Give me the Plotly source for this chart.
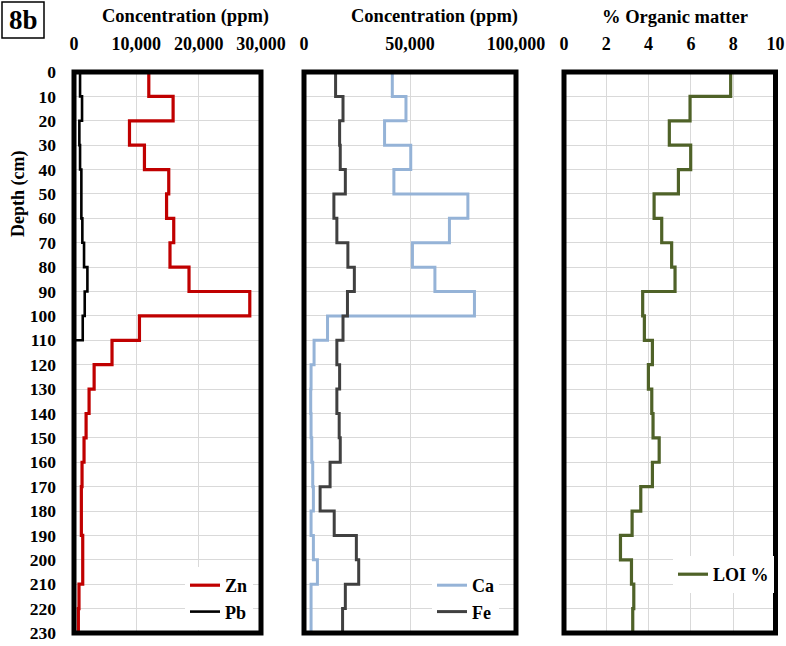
import plotly.graph_objects as go

# Sediment core depth intervals (cm): each value holds from one edge to the next
depth_edges = [0, 10, 20, 30, 40, 50, 60, 70, 80, 90, 100, 110,
               120, 130, 140, 150, 160, 170, 180, 190, 200, 210, 220, 230]

# Concentrations (ppm) per 10 cm interval
zn_ppm = [12000, 15900, 8900, 11300, 15200, 14850, 16000, 15400, 18450, 28200,
          10500, 6100, 3230, 2420, 1940, 1610, 1290, 1180, 1180, 1400, 1400, 800, 700]
pb_ppm = [970, 1290, 860, 970, 1180, 1180, 1340, 1610, 2150, 1720, 1400]  # 0-110 cm only
ca_ppm = [41650, 48100, 38000, 50350, 42400, 77300, 68600, 51150, 61750, 80400,
          11100, 4750, 3330, 3170, 3330, 3650, 4120, 4430, 3330, 4430, 6330, 3330, 3330]
fe_ppm = [14900, 18400, 16800, 17100, 19500, 14100, 15500, 20700, 23750, 20500,
          18400, 15500, 16800, 15500, 16600, 17100, 12300, 7600, 14250, 24700, 25800, 19500, 18200]

# Loss on ignition (% organic matter)
loi_pct = [7.88, 5.96, 4.98, 5.99, 5.41, 4.26, 4.62, 5.09, 5.25, 3.72,
           3.80, 4.18, 3.99, 4.15, 4.21, 4.50, 4.18, 3.63, 3.22, 2.67, 3.19, 3.30, 3.25]

W, H = 786, 646
FONT = "Liberation Serif"


def px_x(p):
    return p / W


def px_y(p):
    return (H - p) / H


def step_profile(values, edges, tail=None):
    """Depth-profile steps: x holds per-interval values, closed at the last edge."""
    xs = list(values) + [values[-1] if tail is None else tail]
    ys = list(edges[:len(xs)])
    return xs, ys


fig = go.Figure()

panels = [
    # (axis suffix, legend id, series list)
    ("", "legend", [("Zn", zn_ppm, "#C00000", 3.2, None),
                    ("Pb", pb_ppm, "#000000", 2.6, 0)]),
    ("2", "legend2", [("Ca", ca_ppm, "#95B3D7", 3.0, None),
                      ("Fe", fe_ppm, "#404040", 3.0, None)]),
    ("3", "legend3", [("LOI %", loi_pct, "#4F6228", 3.2, None)]),
]

for suffix, leg, series in panels:
    for name, vals, color, width, tail in series:
        xs, ys = step_profile(vals, depth_edges, tail)
        fig.add_trace(go.Scatter(
            x=xs, y=ys, name=name, mode="lines",
            line=dict(color=color, width=width, shape="vh"),
            xaxis="x" + suffix, yaxis="y" + suffix, legend=leg,
            hoverinfo="skip",
        ))

y_dom = [px_y(633), px_y(72)]
grid = "#D9D9D9"
tick_font = dict(family=FONT, size=18, color="black", weight="bold")

x_common = dict(side="top", showgrid=True, gridcolor=grid, gridwidth=1.3,
                zeroline=False, showline=False, ticks="", tickformat=",",
                tickfont=tick_font, ticklabelstandoff=17, fixedrange=True,
                automargin=False)
y_common = dict(range=[230, 0], dtick=10, showgrid=True, gridcolor=grid,
                gridwidth=1.3, zeroline=False, showline=False, ticks="",
                domain=y_dom, fixedrange=True, automargin=False)

fig.update_layout(
    width=W, height=H,
    margin=dict(l=0, r=0, t=0, b=0, autoexpand=False),
    paper_bgcolor="white", plot_bgcolor="white",
    font=dict(family=FONT, color="black", weight="bold"),
    xaxis=dict(x_common, domain=[px_x(74), px_x(261)], range=[0, 30000],
               dtick=10000, anchor="y"),
    yaxis=dict(y_common, anchor="x", showticklabels=True,
               tickfont=dict(family=FONT, size=17.5, color="black", weight="bold"),
               ticklabelstandoff=17),
    xaxis2=dict(x_common, domain=[px_x(304), px_x(516)], range=[0, 100000],
                dtick=50000, anchor="y2"),
    yaxis2=dict(y_common, anchor="x2", showticklabels=False),
    xaxis3=dict(x_common, domain=[px_x(564), px_x(775.5)], range=[0, 10],
                dtick=2, anchor="y3"),
    yaxis3=dict(y_common, anchor="x3", showticklabels=False),
    showlegend=True,
)

legend_font = dict(family=FONT, size=18, color="black", weight="bold")
legend_common = dict(bgcolor="white", borderwidth=0, font=legend_font,
                     xanchor="left", yanchor="top", tracegroupgap=0)
fig.update_layout(
    legend=dict(legend_common, x=px_x(185), y=px_y(567)),
    legend2=dict(legend_common, x=px_x(432), y=px_y(567)),
    legend3=dict(legend_common, x=px_x(673), y=px_y(556)),
)

# Heavy frames around each panel
for ax in ["", "2", "3"]:
    fig.add_shape(type="rect", xref="x" + ax + " domain", yref="y" + ax + " domain",
                  x0=0, x1=1, y0=0, y1=1, line=dict(color="black", width=5),
                  layer="above")

# Panel label box
fig.add_shape(type="rect", xref="paper", yref="paper",
              x0=px_x(2), x1=px_x(44), y0=px_y(38), y1=px_y(2),
              line=dict(color="black", width=1.5))

annotations = [
    dict(text="8b", x=px_x(23), y=px_y(20), font=dict(size=27)),
    dict(text="Concentration (ppm)", x=px_x(185), y=px_y(17), font=dict(size=18.5)),
    dict(text="Concentration (ppm)", x=px_x(434), y=px_y(17), font=dict(size=18.5)),
    dict(text="% Organic matter", x=px_x(675), y=px_y(17), font=dict(size=18.5)),
    dict(text="Depth (cm)", x=px_x(18), y=px_y(194), textangle=-90, font=dict(size=18)),
]
for a in annotations:
    a["font"].update(family=FONT, color="black", weight="bold")
    fig.add_annotation(xref="paper", yref="paper", showarrow=False,
                       xanchor="center", yanchor="middle", **a)

fig.write_html("out.html")
